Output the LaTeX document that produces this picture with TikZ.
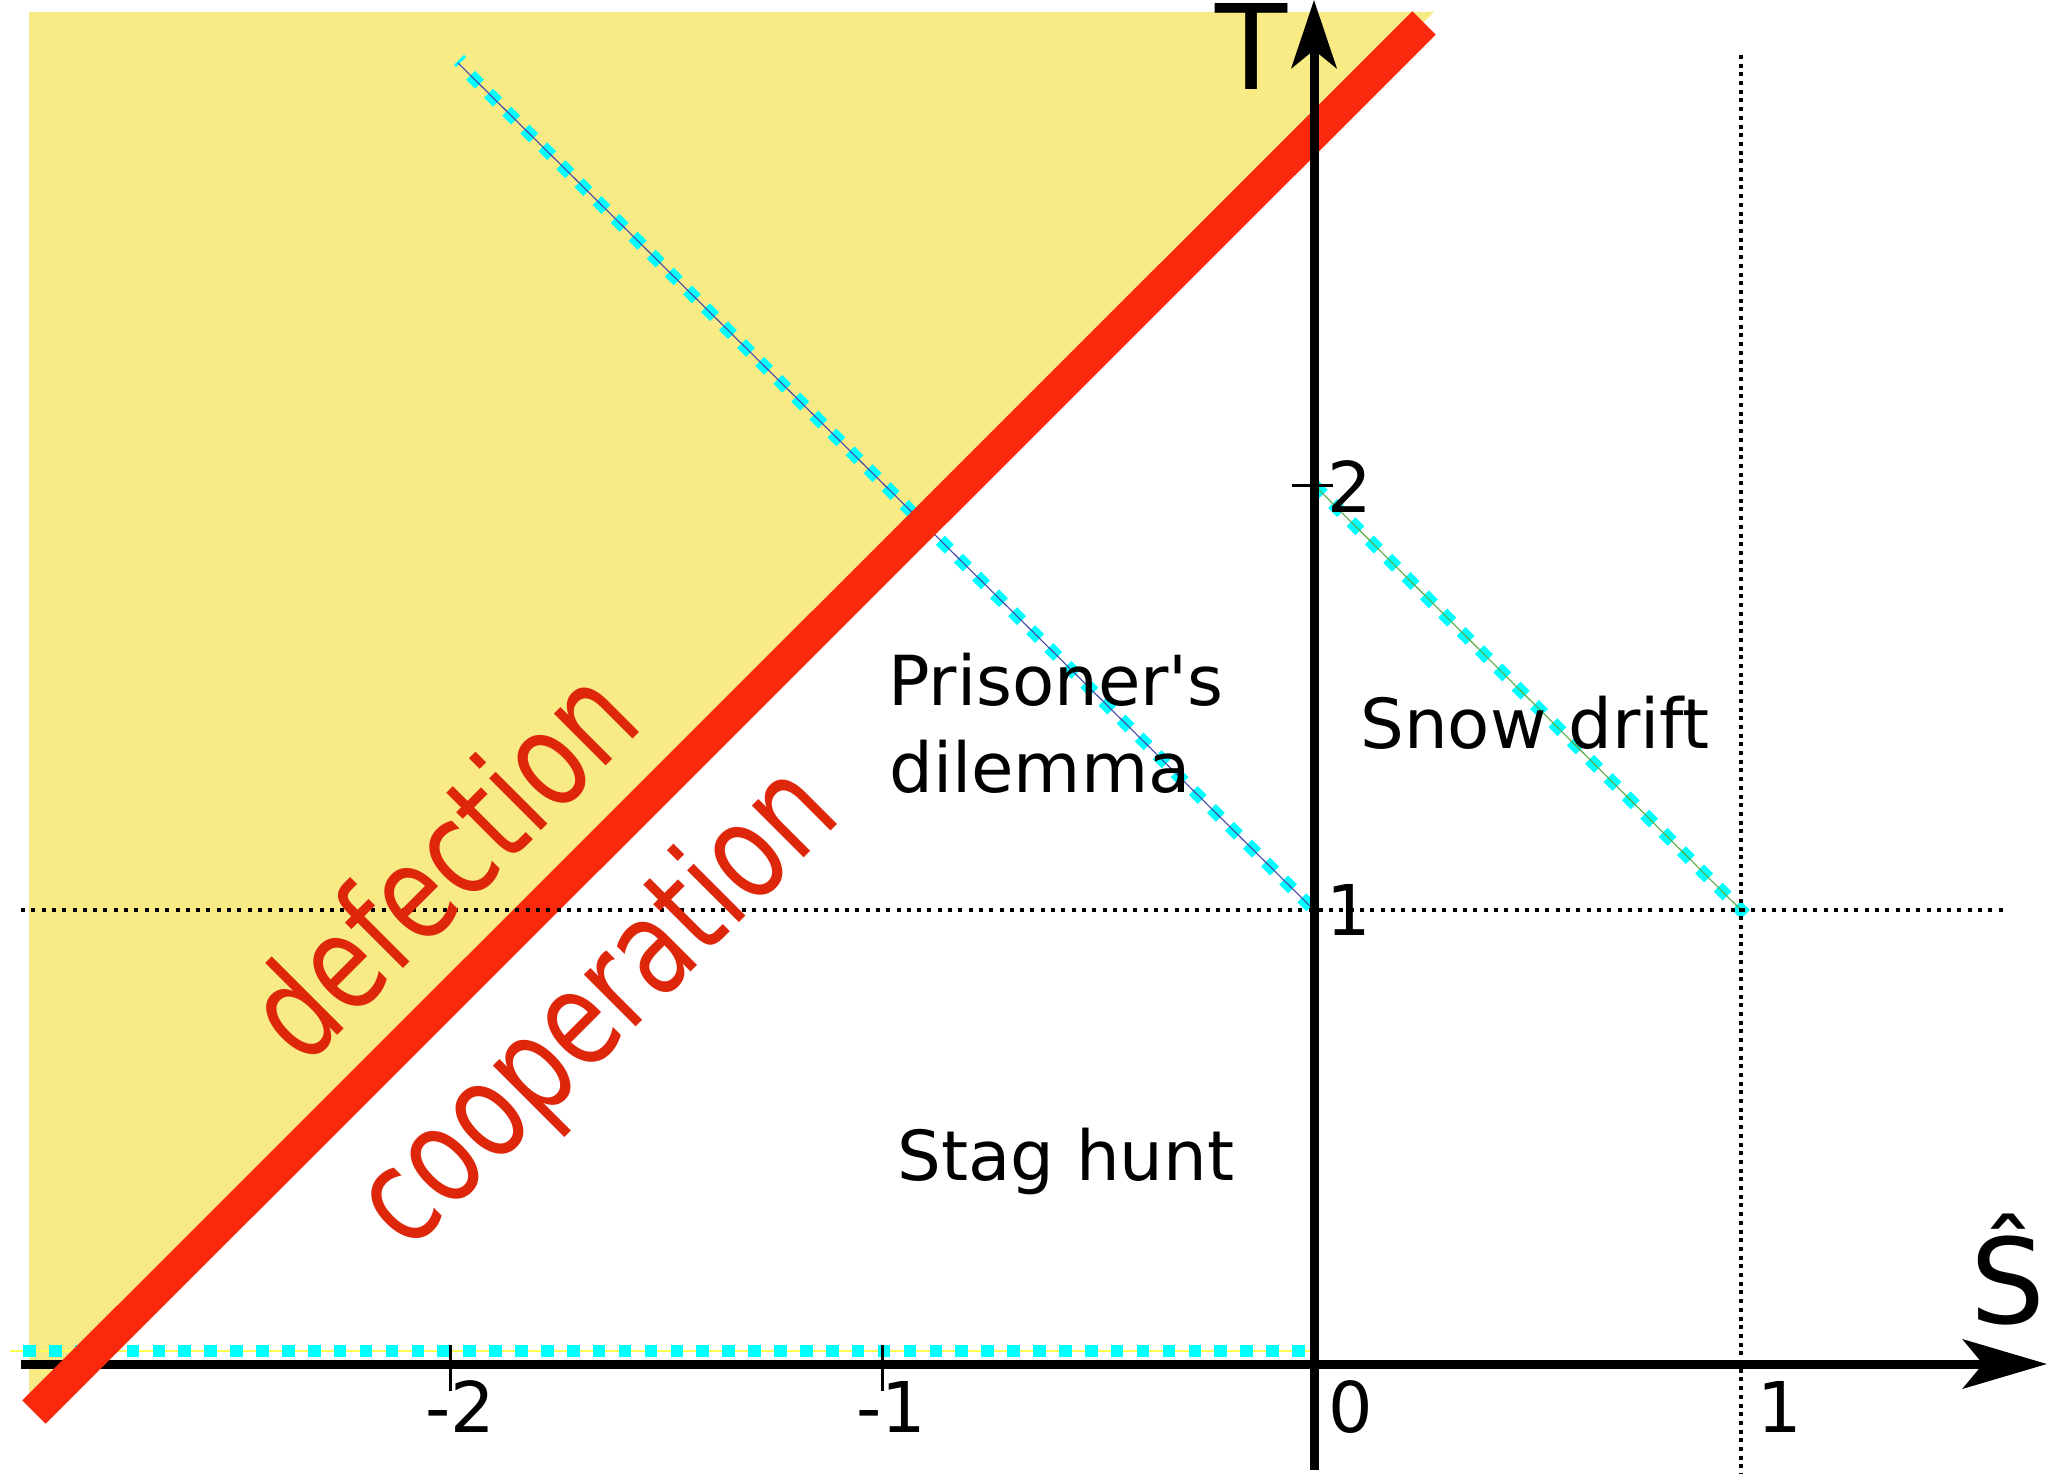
\documentclass[tikz,border=0pt]{standalone}
\usepackage{fontspec}
\setmainfont{DejaVu Sans}
\usetikzlibrary{arrows.meta,decorations.markings,calc}
\definecolor{bgyellow}{RGB}{248,235,133}
\definecolor{linered}{RGB}{248,41,12}
\definecolor{txtred}{RGB}{222,38,10}
\definecolor{pdline}{RGB}{70,70,170}
\definecolor{sdline}{RGB}{90,170,70}
\definecolor{shline}{RGB}{255,255,80}
\definecolor{cyandot}{RGB}{0,255,255}
\begin{document}
\begin{tikzpicture}[x=1pt,y=-1pt,
  dotline/.style={black, line width=4pt, dash pattern=on 4pt off 6.3pt},
  vdotline/.style={black, line width=3.6pt, dash pattern=on 4pt off 4.7pt},
  sqmarks/.style 2 args={decoration={markings,
      mark=between positions #1 and 1 step #2 with {\fill[cyandot] (-6.3pt,-6.3pt) rectangle (6.3pt,6.3pt);}},
      decorate},
  thinline/.style={line width=1.1pt},
  axisline/.style={black, line width=9pt},
  tickline/.style={black, line width=3pt},
  region/.style={font=\fontsize{69}{83}\selectfont, inner sep=0pt},
  ticklbl/.style={font=\fontsize{70}{84}\selectfont, inner sep=0pt, anchor=base},
  axlbl/.style={font=\fontsize{118}{130}\selectfont, inner sep=0pt, anchor=base},
  bigred/.style={text=txtred, font=\fontsize{134}{134}\selectfont, inner sep=0pt, rotate=45}]
\useasboundingbox (0,0) rectangle (2050,1474);
% coordinates
\coordinate (O) at (1314,1364);
\coordinate (xs) at (21,1364);
\coordinate (xe) at (2047,1364);
\coordinate (ys) at (1314,1470);
\coordinate (ye) at (1314,0);
\coordinate (T1) at (1314,910);
\coordinate (T2) at (1314,485);
\coordinate (S1T1) at (1741,910);
\coordinate (pdtop) at (458,63);
\coordinate (redA) at (34,1412);
\coordinate (redB) at (1424,23);
\coordinate (hdA) at (21,910);
\coordinate (hdB) at (2004,910);
\coordinate (vdA) at (1741,55);
\coordinate (vdB) at (1741,1474);
\coordinate (shA) at (10,1351);
\coordinate (shB) at (1312,1351);
\coordinate (shC) at (23,1351);
% yellow region
\fill[bgyellow] (29,12) -- (1434,12) -- (29,1400) -- cycle;
% stag hunt row (thin line under squares)
\draw[shline, line width=2pt] (shA) -- (shB);
\path[sqmarks={6.3pt}{25.9pt}] (shC) -- (shB);
% prisoner's dilemma diagonal
\foreach \i in {0,...,46}{
  \fill[cyandot] ($(pdtop)!{(23.9+25.42*\i)/1204.2}!(T1)$) +(8.9,0) -- +(0,8.9) -- +(-8.9,0) -- +(0,-8.9) -- cycle;
}
\coordinate (tickA) at ($(pdtop)+(-3,3)$);
\coordinate (tickB) at ($(pdtop)+(7,-7)$);
\draw[cyandot, line width=3pt] (tickA) -- (tickB);
\draw[pdline, thinline] (pdtop) -- (T1);
% snow drift diagonal
\foreach \i in {0,...,23}{
  \fill[cyandot] ($(T2)!{(6.7+25.9*\i)/602.5}!(S1T1)$) +(8.9,0) -- +(0,8.9) -- +(-8.9,0) -- +(0,-8.9) -- cycle;
}
\draw[sdline, thinline] (T2) -- (S1T1);
% horizontal axis
\draw[axisline, -{Stealth[length=84pt, width=49pt, inset=20pt]}] (xs) -- (xe);
% red line
\draw[linered, line width=33pt] (redA) -- (redB);
% dotted lines
\draw[dotline] (hdA) -- (hdB);
\draw[vdotline] (vdA) -- (vdB);
% vertical axis
\draw[axisline, -{Stealth[length=68pt, width=45pt, inset=18pt]}] (ys) -- (ye);
% ticks
\coordinate (tk2a) at (1292,485);
\coordinate (tk2b) at (1333,485);
\draw[tickline] (tk2a) -- (tk2b);
\coordinate (tm2a) at (450,1345);
\coordinate (tm2b) at (450,1391);
\draw[tickline] (tm2a) -- (tm2b);
\coordinate (tm1a) at (882,1345);
\coordinate (tm1b) at (882,1391);
\draw[tickline] (tm1a) -- (tm1b);
% tick labels
\node[ticklbl] (lT2) at (1350,512) {2};
\node[ticklbl] (lT1) at (1349,935) {1};
\node[ticklbl] (lS0) at (1351,1432) {0};
\node[ticklbl] (lS1) at (1780,1432) {1};
\node[ticklbl] (lSm2) at (460,1432) {-2};
\node[ticklbl] (lSm1) at (891,1432) {-1};
% axis labels
\node[axlbl] (lT) at (1252,90) {T};
\node[axlbl] (lS) at (2008,1323) {Ŝ};
% region labels
\node[region, anchor=base west] (pd1) at (888,705) {Prisoner\textquotesingle s};
\node[region, anchor=base west] (pd2) at (889,792) {dilemma};
\node[region, anchor=base west] (sd) at (1360,748) {Snow drift};
\node[region, anchor=base west] (sh) at (897,1180) {Stag hunt};
% defection / cooperation
\node[bigred] (def) at (440,862) {\scalebox{0.77}[1]{defection}};
\node[bigred] (coop) at (600,1010) {\scalebox{0.77}[1]{cooperation}};
\end{tikzpicture}
\end{document}
